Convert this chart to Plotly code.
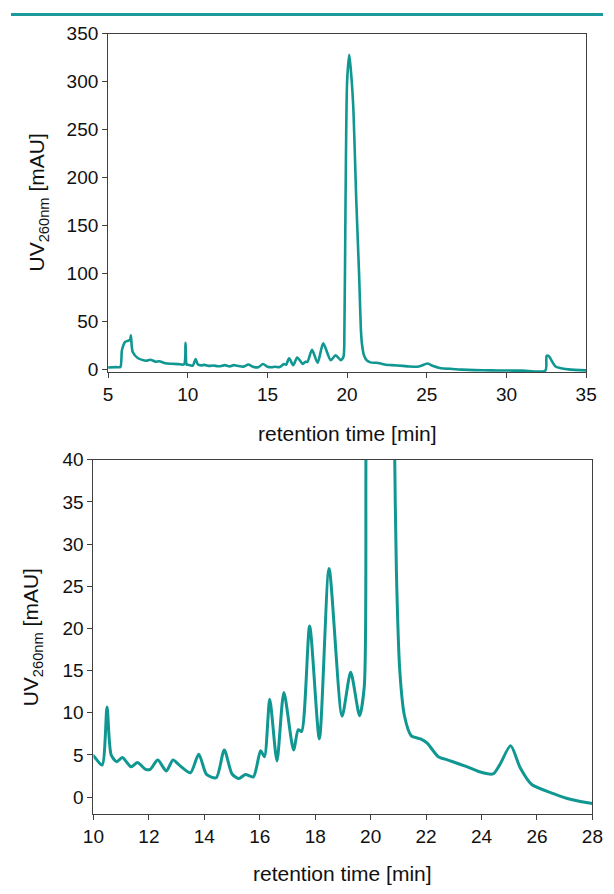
import plotly.graph_objects as go

# retention time [min] and UV260nm absorbance [mAU]
time_min = [5.0, 5.5, 5.77, 5.87, 6.07, 6.27, 6.38, 6.43, 6.54, 6.88, 7.39, 7.65, 7.99, 8.2, 8.6, 9.0,
            9.4, 9.77, 9.86, 9.93, 10.0, 10.31, 10.49, 10.64, 10.84, 11.04, 11.36, 11.59, 11.88, 12.05,
            12.32, 12.63, 12.87, 13.1, 13.5, 13.8, 14.08, 14.43, 14.72, 15.0, 15.25, 15.48, 15.77, 16.03,
            16.17, 16.36, 16.62, 16.87, 17.22, 17.39, 17.51, 17.80, 18.15, 18.50, 18.97, 19.28, 19.6,
            19.77, 19.83, 19.9, 20.0, 20.13, 20.22, 20.38, 20.58, 20.75, 20.87, 20.93, 21.05, 21.22,
            21.46, 21.8, 22.04, 22.44, 22.79, 23.49, 23.89, 24.41, 24.65, 25.05, 25.4, 25.81, 26.62,
            27.2, 28.0, 29.0, 30.0, 31.0, 32.44, 32.52, 32.64, 33.08, 33.5, 33.9, 35.0]
uv_mau = [2.0, 2.3, 2.5, 20.0, 28.7, 30.0, 31.0, 35.5, 18.4, 11.6, 9.0, 10.0, 8.0, 8.5, 6.3, 5.8,
          5.5, 5.3, 27.6, 5.0, 4.9, 3.8, 10.7, 5.0, 4.2, 4.7, 3.6, 4.1, 3.3, 3.3,
          4.4, 3.1, 4.4, 3.8, 2.9, 5.1, 2.7, 2.3, 5.6, 2.75, 2.2, 2.7, 2.4, 5.5,
          4.8, 11.6, 4.3, 12.4, 5.6, 8.0, 7.8, 20.3, 6.9, 27.1, 9.6, 14.8, 9.65,
          13.1, 40.0, 173.0, 300.0, 328.0, 315.0, 276.0, 174.0, 100.0, 40.0, 26.7, 15.1, 9.65,
          7.3, 6.9, 6.4, 4.8, 4.4, 3.6, 3.05, 2.75, 3.8, 6.1, 3.45, 1.5, 0.4,
          -0.25, -0.75, -1.0, -1.2, -1.3, -1.3, 14.0, 14.0, 3.0, 1.0, 0.0, -1.0]

top_xticks = [5, 10, 15, 20, 25, 30, 35]
top_yticks = [0, 50, 100, 150, 200, 250, 300, 350]
bot_xticks = [10, 12, 14, 16, 18, 20, 22, 24, 26, 28]
bot_yticks = [0, 5, 10, 15, 20, 25, 30, 35, 40]

W, H = 614, 894
LINE = "#109791"
AX = "#404040"
FONT = "Liberation Sans, Arial, sans-serif"

fig = go.Figure()
fig.add_trace(go.Scatter(x=time_min, y=uv_mau, mode="lines", xaxis="x", yaxis="y",
                         line=dict(color=LINE, width=2.6, shape="spline", smoothing=0.7),
                         showlegend=False, hoverinfo="skip"))
fig.add_trace(go.Scatter(x=time_min, y=uv_mau, mode="lines", xaxis="x2", yaxis="y2",
                         line=dict(color=LINE, width=3, shape="spline", smoothing=0.7),
                         showlegend=False, hoverinfo="skip"))

def px_x(p):
    return p / W

def px_y(p):
    return 1 - p / H

axis_common = dict(showgrid=False, zeroline=False, showline=True, linecolor=AX, linewidth=1,
                   mirror=True, ticks="outside", ticklen=5, tickcolor=AX, tickwidth=1,
                   tickfont=dict(family=FONT, size=19, color="#111"))

fig.update_layout(
    width=W, height=H, margin=dict(l=0, r=0, t=0, b=0),
    paper_bgcolor="white", plot_bgcolor="white",
    xaxis=dict(domain=[px_x(100.7), px_x(596.5)], range=[5, 35], tickvals=top_xticks,
               anchor="y", **axis_common),
    yaxis=dict(domain=[px_y(369.5), px_y(24.3)], range=[-2.8, 350], tickvals=top_yticks,
               anchor="x", **axis_common),
    xaxis2=dict(domain=[px_x(85.5), px_x(603)], range=[10, 28], tickvals=bot_xticks,
                anchor="y2", **axis_common),
    yaxis2=dict(domain=[px_y(821), px_y(459)], range=[-2.05, 40], tickvals=bot_yticks,
                anchor="x2", **axis_common),
)

title_font = dict(family=FONT, size=21, color="#111")
ytitle = "UV<sub>260nm</sub> [mAU]"
xtitle = "retention time [min]"
fig.add_annotation(text=ytitle, textangle=-90, x=px_x(28), y=px_y(196.5), xref="paper", yref="paper",
                   showarrow=False, font=title_font, xanchor="center", yanchor="middle")
fig.add_annotation(text=ytitle, textangle=-90, x=px_x(22), y=px_y(640), xref="paper", yref="paper",
                   showarrow=False, font=title_font, xanchor="center", yanchor="middle")
fig.add_annotation(text=xtitle, x=px_x(348.5), y=px_y(432), xref="paper", yref="paper",
                   showarrow=False, font=title_font, xanchor="center", yanchor="middle")
fig.add_annotation(text=xtitle, x=px_x(344), y=px_y(881), xref="paper", yref="paper",
                   showarrow=False, font=title_font, xanchor="center", yanchor="middle")

# teal rule along the top of the page
fig.add_shape(type="line", xref="paper", yref="paper", x0=0, x1=1, y0=px_y(4.5), y1=px_y(4.5),
              line=dict(color="#1a9a9a", width=3))

fig.write_html("out.html",
               post_script="document.body.style.margin='0';document.body.style.overflow='hidden';")
